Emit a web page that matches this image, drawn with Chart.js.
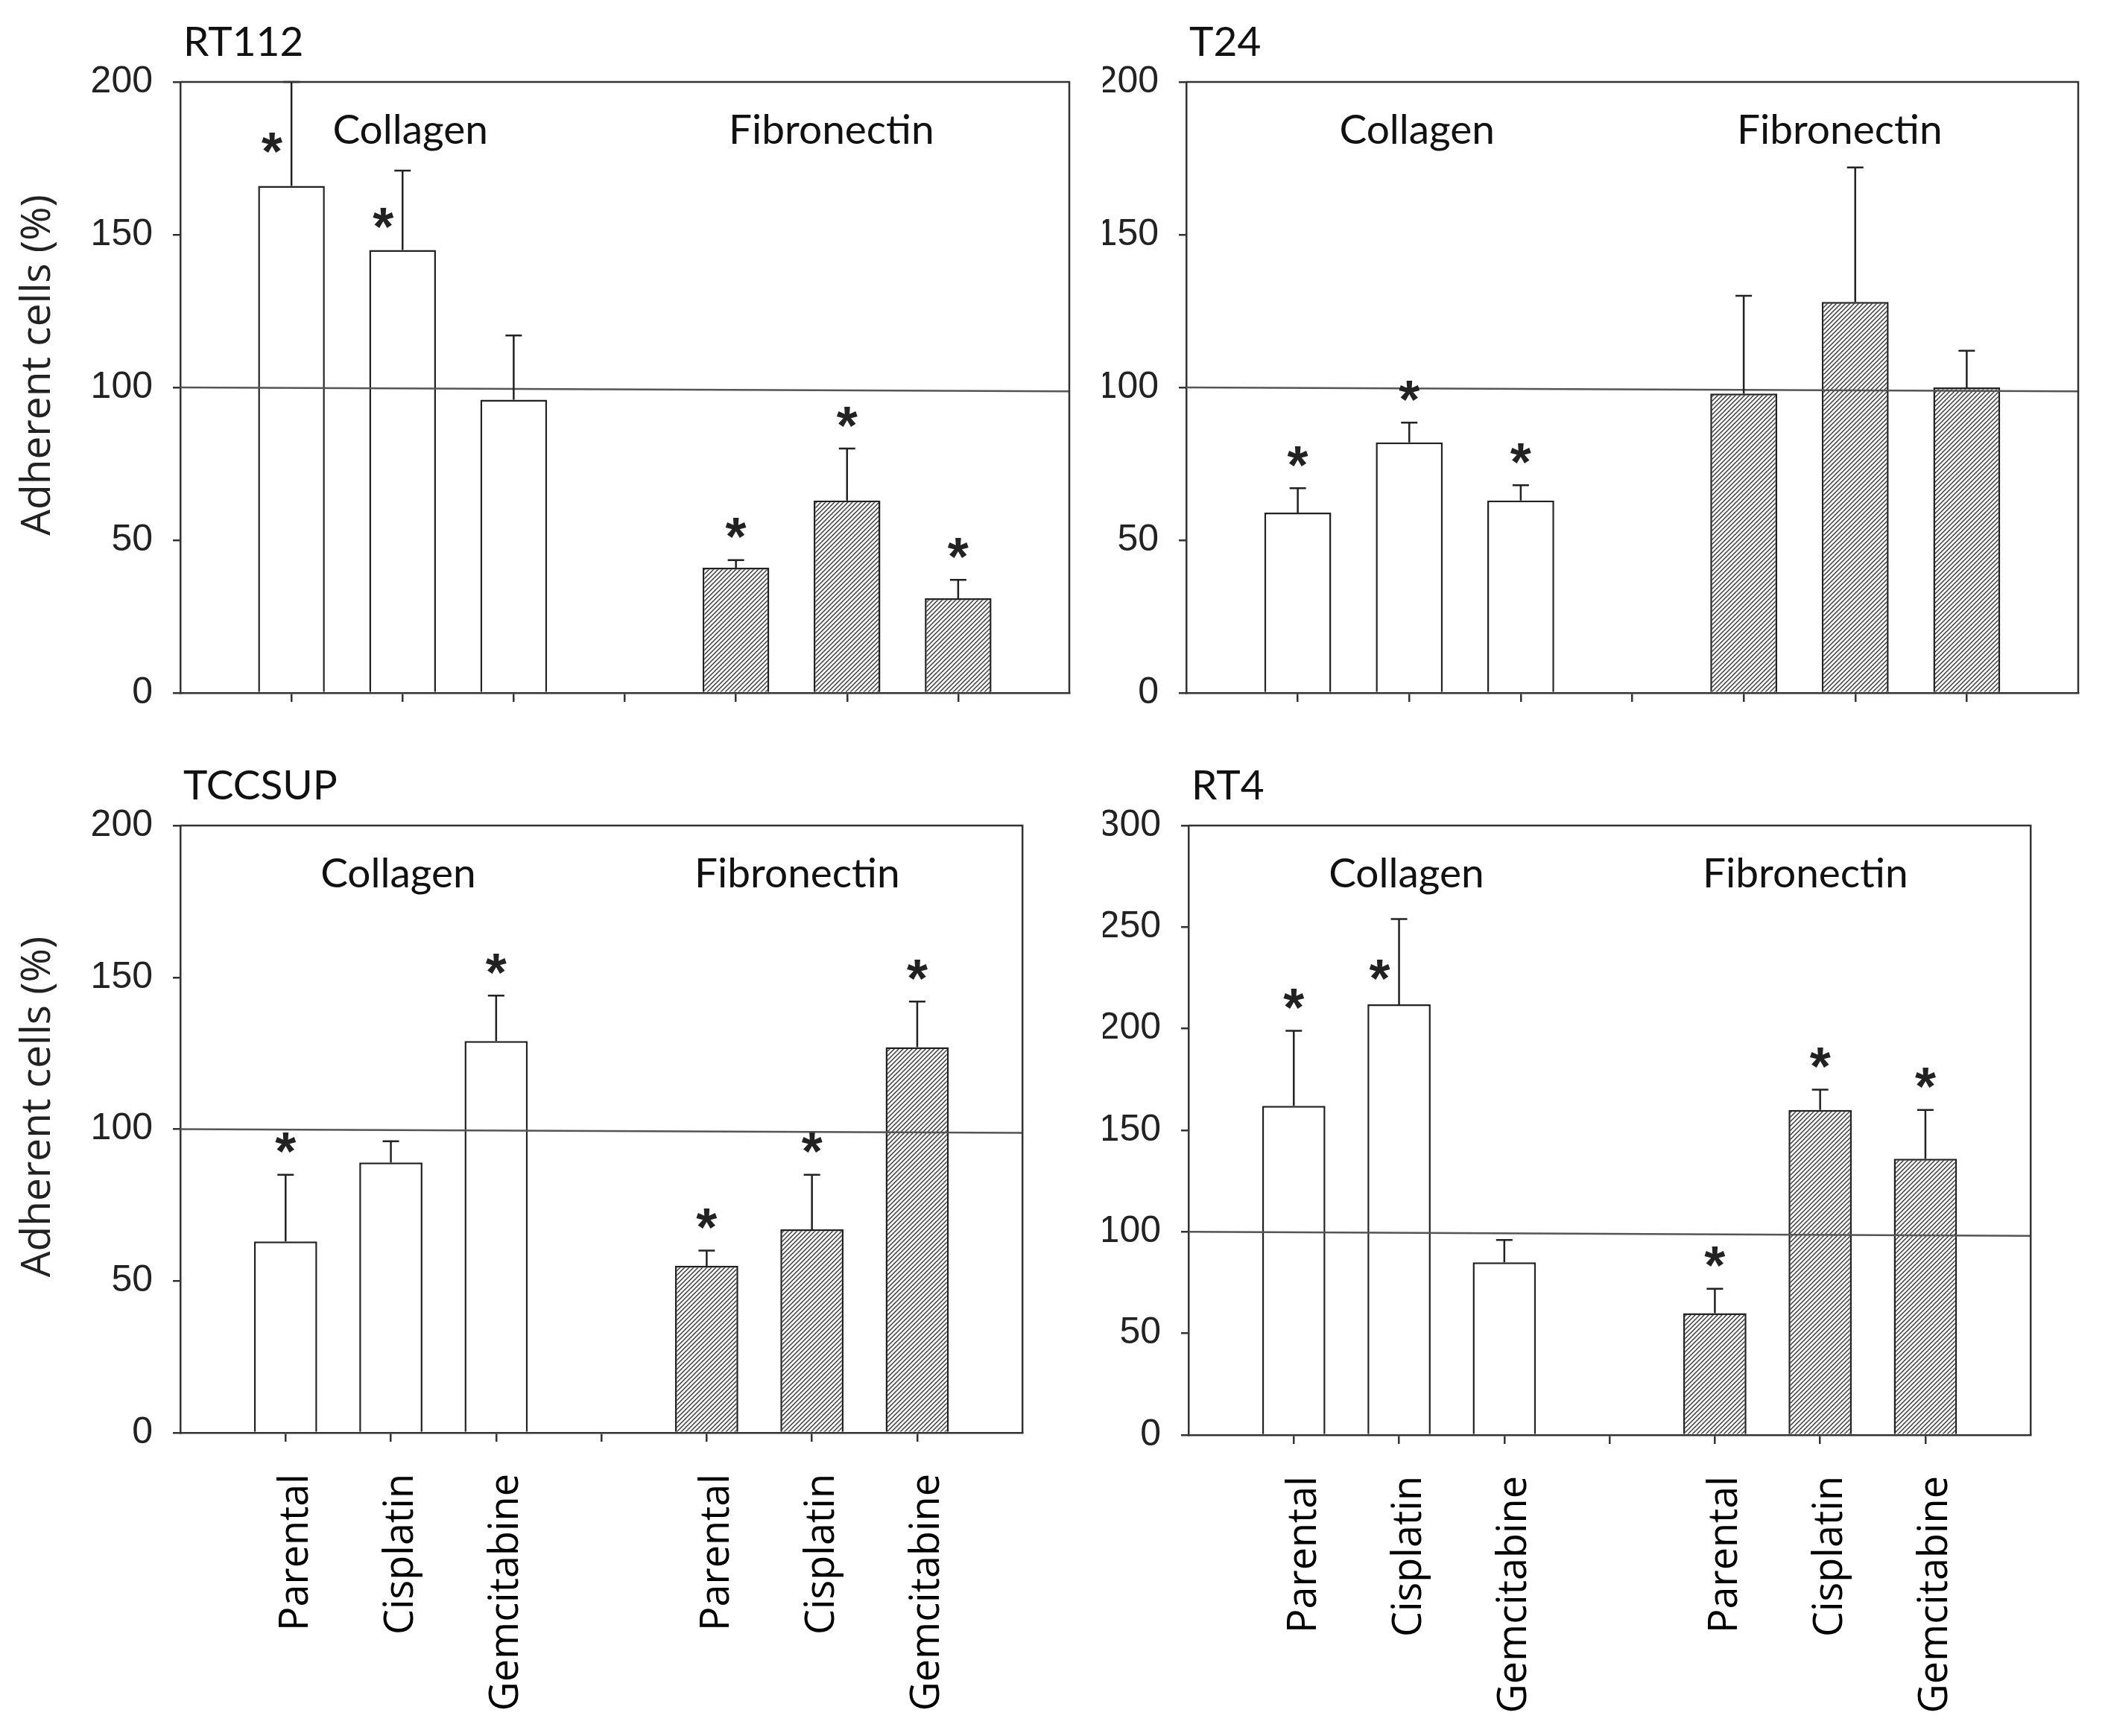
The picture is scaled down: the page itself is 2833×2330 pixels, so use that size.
<!DOCTYPE html>
<html>
<head>
<meta charset="utf-8">
<script src="https://cdn.jsdelivr.net/npm/chart.js@4.4.1/dist/chart.umd.min.js"></script>
<style>
  html, body { margin: 0; padding: 0; background: #fff; }
  body { width: 2833px; height: 2330px; position: relative; overflow: hidden; }
  .panel { position: absolute; }
</style>
</head>
<body>
<div class="panel" style="left:0;top:0;width:1480px;height:1000px"><canvas id="rt112Chart"></canvas></div>
<div class="panel" style="left:1480px;top:0;width:1353px;height:1000px"><canvas id="t24Chart"></canvas></div>
<div class="panel" style="left:0;top:1000px;width:1480px;height:1330px"><canvas id="tccsupChart"></canvas></div>
<div class="panel" style="left:1480px;top:1000px;width:1353px;height:1330px"><canvas id="rt4Chart"></canvas></div>
<script>
// categories
const treatments = ["Parental", "Cisplatin", "Gemcitabine"];
const substrates = ["Collagen", "Fibronectin"];

// mean adherent cells (%), order: collagen x3, fibronectin x3
const rt112Mean = [166, 145, 96, 41, 63, 31];
const rt112Err = [34, 26, 21, 2.5, 17, 6];
const rt112Sig = ["left", "left", "", "up", "up", "up"];
const rt112Ref = [100, 98.7];

const t24Mean = [59, 82, 63, 98, 128, 100];
const t24Err = [8, 6.5, 5, 32, 44, 12];
const t24Sig = ["up", "up", "up", "", "", ""];
const t24Ref = [100, 98.7];

const tccsupMean = [63, 89, 129, 55, 67, 127];
const tccsupErr = [22, 7, 15, 5, 18, 15];
const tccsupSig = ["up", "", "up", "up", "up", "up"];
const tccsupRef = [100, 98.8];

const rt4Mean = [162, 212, 85, 60, 160, 136];
const rt4Err = [37, 42, 11, 12, 10, 24];
const rt4Sig = ["up", "left", "", "up", "up", "up"];
const rt4Ref = [100, 98];

const yTitle = "Adherent cells (%)";

// 9 slots on the x axis: empty edge, 3 collagen, gap, 3 fibronectin, empty edge
const slotLabels = ["", ...treatments, "", ...treatments, ""];
function slot(arr) {
  return [null, arr[0], arr[1], arr[2], null, arr[3], arr[4], arr[5], null];
}
function refLine(ends) {
  return [ends[0], null, null, null, null, null, null, null, ends[1]];
}

function makeHatch() {
  const c = document.createElement("canvas");
  c.width = 6;
  c.height = 6;
  const g = c.getContext("2d");
  g.fillStyle = "#fff";
  g.fillRect(0, 0, 6, 6);
  g.strokeStyle = "#333";
  g.lineWidth = 1.4;
  g.beginPath();
  g.moveTo(-1, 7); g.lineTo(7, -1);
  g.moveTo(-1, 1); g.lineTo(1, -1);
  g.moveTo(5, 7); g.lineTo(7, 5);
  g.stroke();
  return g.createPattern(c, "repeat");
}
const hatch = makeHatch();
const barFills = slot(["#fff", "#fff", "#fff", hatch, hatch, hatch]);

const errorBarPlugin = {
  id: "errorBars",
  afterDatasetsDraw(chart) {
    const { ctx } = chart;
    const yScale = chart.scales.y;
    chart.data.datasets.forEach((ds, di) => {
      if (!ds.errors) return;
      const meta = chart.getDatasetMeta(di);
      meta.data.forEach((bar, i) => {
        const v = ds.data[i];
        if (v === null || v === undefined) return;
        const e = ds.errors[i];
        const yTop = yScale.getPixelForValue(v);
        const yErr = yScale.getPixelForValue(v + e);
        ctx.save();
        ctx.strokeStyle = "#222";
        ctx.lineWidth = 2.5;
        ctx.beginPath();
        ctx.moveTo(bar.x, yTop);
        ctx.lineTo(bar.x, yErr);
        ctx.moveTo(bar.x - 11, yErr);
        ctx.lineTo(bar.x + 11, yErr);
        ctx.stroke();
        const sig = ds.sig[i];
        if (sig) {
          const size = 72;
          ctx.fillStyle = "#222";
          ctx.font = "bold " + size + "px 'Liberation Sans'";
          ctx.textAlign = "center";
          ctx.textBaseline = "alphabetic";
          let sx = bar.x;
          let sy = yErr - 48;
          if (sig === "left") {
            sx = bar.x - 26;
            sy = yScale.getPixelForValue(v + e * 0.45);
          }
          ctx.fillText("*", sx, sy + size * 0.58);
        }
        ctx.restore();
      });
    });
  },
};

function panelPlugin(title, showYTitle) {
  return {
    id: "panelText",
    afterDraw(chart) {
      const { ctx, chartArea } = chart;
      const xScale = chart.scales.x;
      ctx.save();
      ctx.strokeStyle = "#333";
      ctx.lineWidth = 2.5;
      ctx.beginPath();
      ctx.moveTo(chartArea.left, chartArea.top);
      ctx.lineTo(chartArea.right, chartArea.top);
      ctx.lineTo(chartArea.right, chartArea.bottom);
      ctx.stroke();

      ctx.fillStyle = "#111";
      ctx.font = "55px Lato";
      ctx.textAlign = "left";
      ctx.textBaseline = "alphabetic";
      ctx.fillText(title, chartArea.left + 4, chartArea.top - 35);

      ctx.textAlign = "center";
      ctx.fillText(substrates[0], xScale.getPixelForValue(2.07), chartArea.top + 83);
      ctx.fillText(substrates[1], xScale.getPixelForValue(5.86), chartArea.top + 83);

      if (showYTitle) {
        ctx.fillStyle = "#222";
        ctx.font = "55px 'Open Sans'";
        ctx.translate(51, (chartArea.top + chartArea.bottom) / 2 - 30);
        ctx.rotate(-Math.PI / 2);
        ctx.textBaseline = "middle";
        ctx.fillText(yTitle, 0, 0);
      }
      ctx.restore();
    },
  };
}

function renderPanel(canvasId, p) {
  return new Chart(document.getElementById(canvasId), {
    type: "bar",
    data: {
      labels: slotLabels,
      datasets: [
        {
          type: "line",
          data: refLine(p.ref),
          borderColor: "#555",
          borderWidth: 2.5,
          pointRadius: 0,
          spanGaps: true,
          order: 0,
        },
        {
          data: slot(p.mean),
          errors: slot(p.err),
          sig: slot(p.sig),
          backgroundColor: barFills,
          borderColor: "#222",
          borderWidth: 2.5,
          barPercentage: 0.6,
          categoryPercentage: 1,
          order: 1,
        },
      ],
    },
    options: {
      responsive: true,
      maintainAspectRatio: false,
      animation: false,
      events: [],
      layout: { padding: { top: p.padTop, right: p.padRight, left: 0, bottom: 0 } },
      plugins: { legend: { display: false }, tooltip: { enabled: false } },
      scales: {
        x: {
          type: "category",
          offset: false,
          grid: {
            offset: false,
            drawOnChartArea: false,
            drawTicks: true,
            tickLength: 12,
            lineWidth: 2.5,
            color: (c) => (c.index === 0 || c.index === 8 ? "rgba(0,0,0,0)" : "#333"),
          },
          border: { display: true, color: "#333", width: 2.5 },
          ticks: {
            display: p.showLabels,
            autoSkip: false,
            maxRotation: 90,
            minRotation: 90,
            padding: 43,
            labelOffset: 14,
            color: "#000",
            font: { family: "'Open Sans'", size: 54 },
          },
          afterFit: (s) => { s.height = p.xH; },
        },
        y: {
          min: 0,
          max: p.yMax,
          ticks: {
            stepSize: 50,
            padding: 27,
            color: "#222",
            font: { family: "'Liberation Sans'", size: 50 },
          },
          grid: { drawOnChartArea: false, tickLength: 10, lineWidth: 2.5, color: "#333" },
          border: { display: true, color: "#333", width: 2.5 },
          afterFit: (s) => { s.width = p.yW; },
        },
      },
    },
    plugins: [errorBarPlugin, panelPlugin(p.title, p.yTitle)],
  });
}

renderPanel("rt112Chart", { title: "RT112", mean: rt112Mean, err: rt112Err, sig: rt112Sig, ref: rt112Ref,
  yMax: 200, yW: 242, xH: 70, padTop: 110, padRight: 45, showLabels: false, yTitle: true });
renderPanel("t24Chart", { title: "T24", mean: t24Mean, err: t24Err, sig: t24Sig, ref: t24Ref,
  yMax: 200, yW: 112, xH: 70, padTop: 110, padRight: 44, showLabels: false, yTitle: false });
renderPanel("tccsupChart", { title: "TCCSUP", mean: tccsupMean, err: tccsupErr, sig: tccsupSig, ref: tccsupRef,
  yMax: 200, yW: 242, xH: 407, padTop: 108, padRight: 43, showLabels: true, yTitle: true });
renderPanel("rt4Chart", { title: "RT4", mean: rt4Mean, err: rt4Err, sig: rt4Sig, ref: rt4Ref,
  yMax: 300, yW: 115, xH: 404, padTop: 108, padRight: 44, showLabels: true, yTitle: false });
</script>
</body>
</html>
